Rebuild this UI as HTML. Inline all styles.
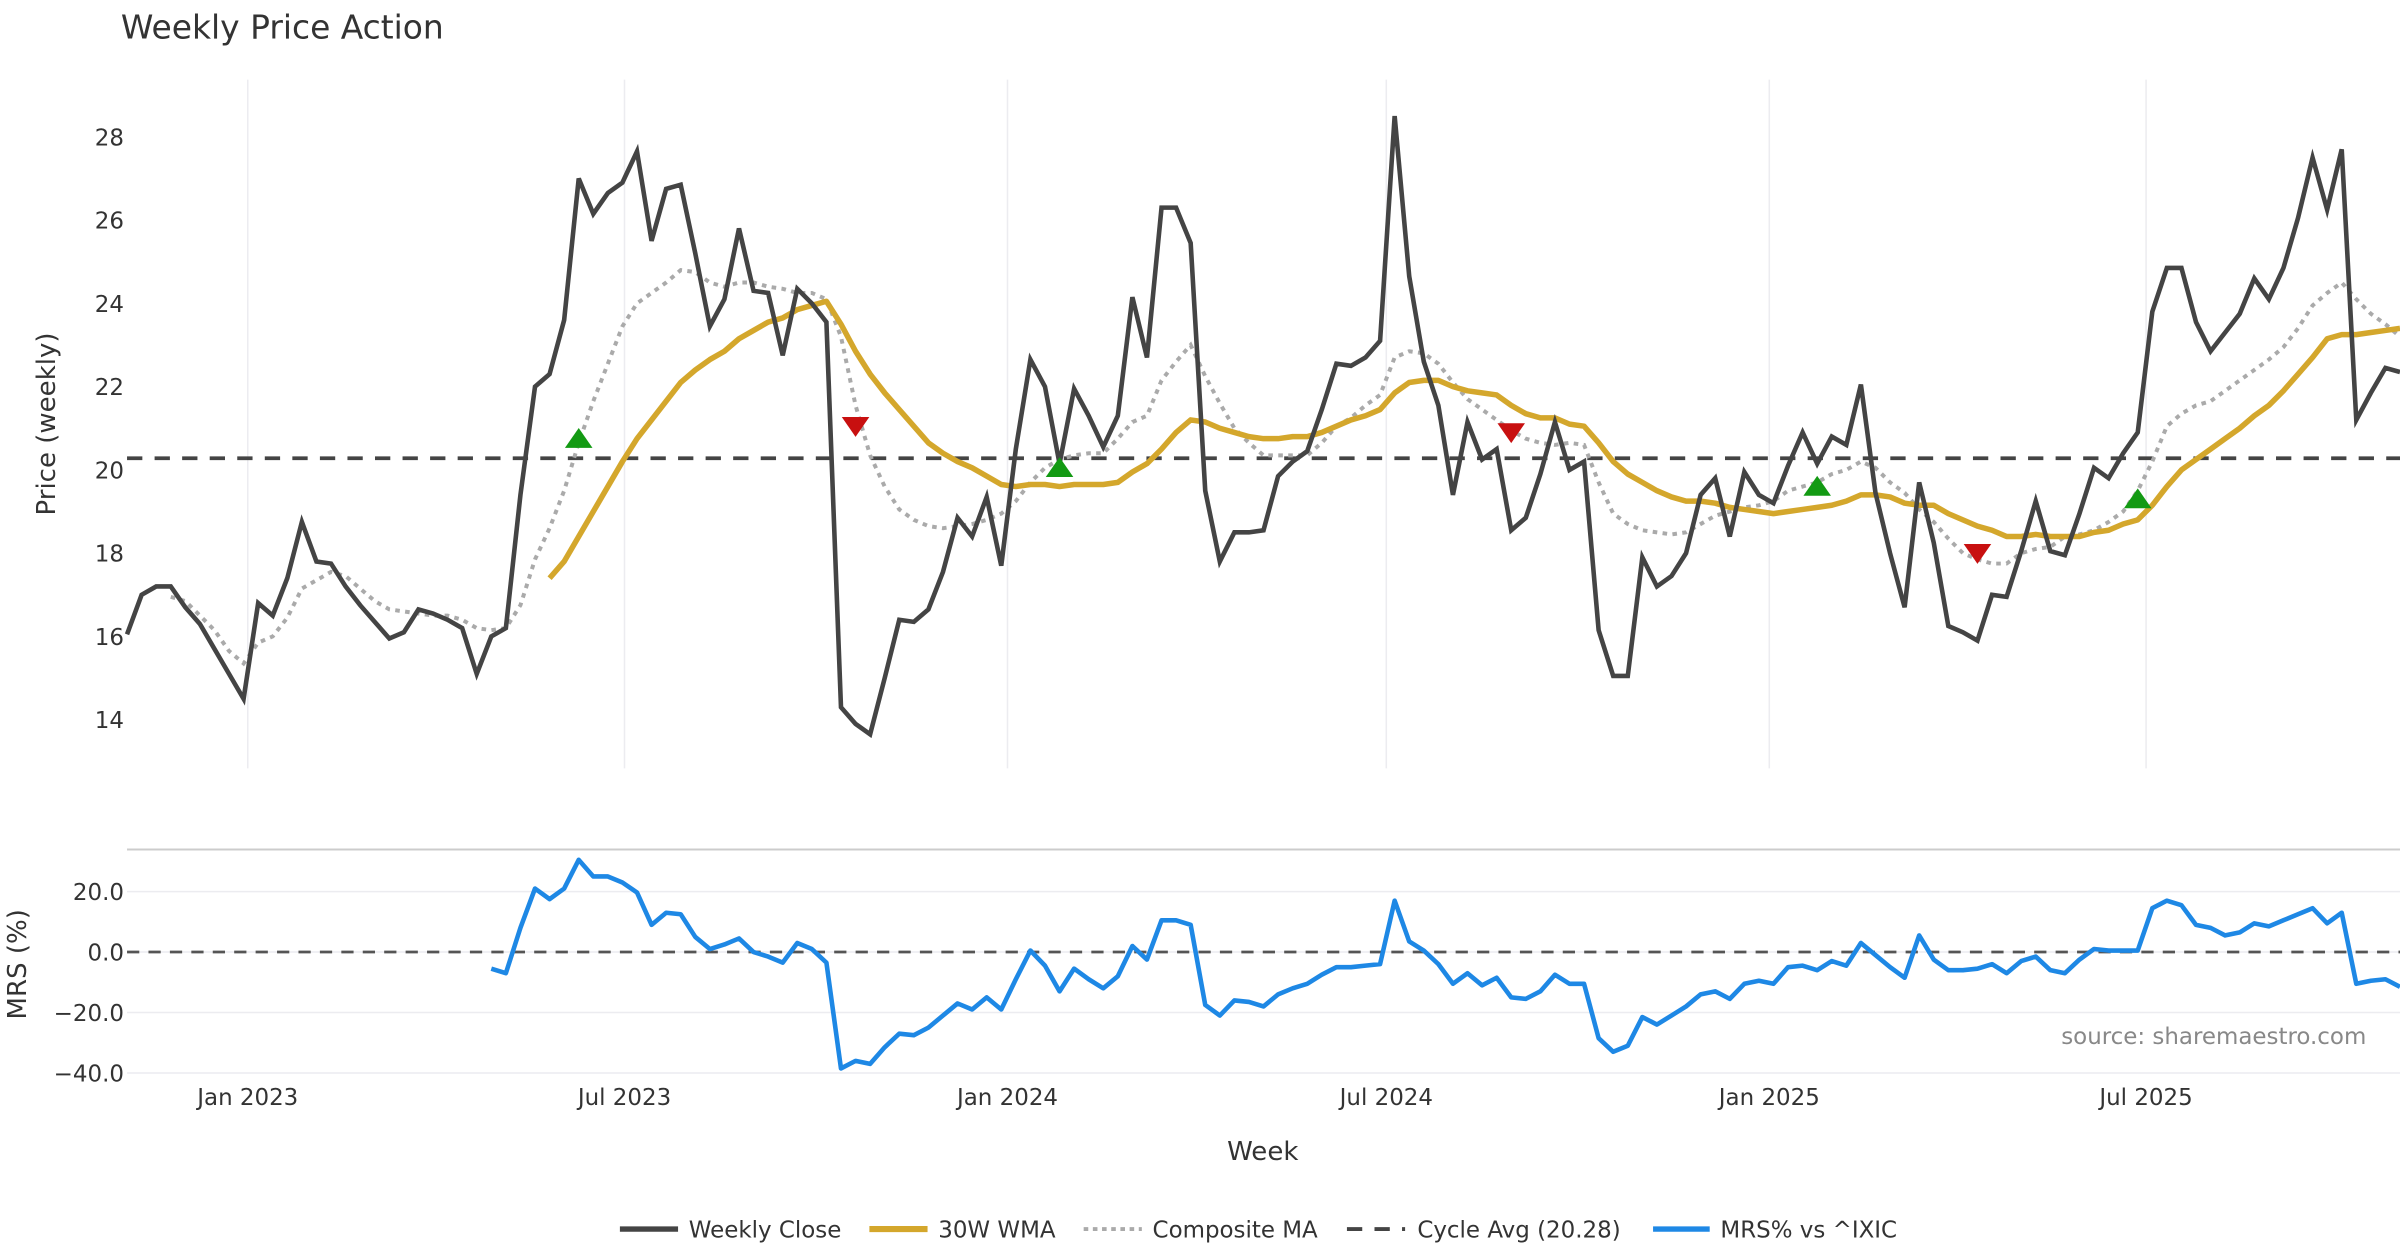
<!DOCTYPE html>
<html><head><meta charset="utf-8"><title>Weekly Price Action</title>
<style>
html,body{margin:0;padding:0;background:#fff;}
svg{display:block;font-family:"DejaVu Sans","Liberation Sans",sans-serif;}
</style></head>
<body>
<svg id="chart" xmlns="http://www.w3.org/2000/svg" width="2400" height="1260" viewBox="0 0 1568 823.2" preserveAspectRatio="none">
<rect x="0" y="0" width="1568" height="823.2" fill="#fff"/>
<text x="79" y="25" font-size="21.5" fill="#333">Weekly Price Action</text>
<g id="grid"></g>
<g id="price"></g>
<g id="mrs"></g>
<g id="axes"></g>
<text transform="translate(36,277) rotate(-90)" text-anchor="middle" font-size="17" fill="#333">Price (weekly)</text>
<text transform="translate(17,630) rotate(-90)" text-anchor="middle" font-size="17" fill="#333">MRS (%)</text>
<text x="825" y="758" text-anchor="middle" font-size="17" fill="#333">Week</text>
<text x="1546" y="682" text-anchor="end" font-size="15" fill="#888">source: sharemaestro.com</text>
<g id="legend">
  <line x1="405" y1="803" x2="443" y2="803" stroke="#444" stroke-width="3.5"/>
  <text x="450" y="808.5" font-size="15" fill="#333">Weekly Close</text>
  <line x1="568" y1="803" x2="606" y2="803" stroke="#d4a72c" stroke-width="4"/>
  <text x="613" y="808.5" font-size="15" fill="#333">30W WMA</text>
  <line x1="708" y1="803" x2="746" y2="803" stroke="#aaa" stroke-width="2.5" stroke-dasharray="3,3"/>
  <text x="753" y="808.5" font-size="15" fill="#333">Composite MA</text>
  <line x1="880" y1="803" x2="918" y2="803" stroke="#444" stroke-width="2.5" stroke-dasharray="10,8"/>
  <text x="926" y="808.5" font-size="15" fill="#333">Cycle Avg (20.28)</text>
  <line x1="1080" y1="803" x2="1117" y2="803" stroke="#1e88e5" stroke-width="3.5"/>
  <text x="1124" y="808.5" font-size="15" fill="#333">MRS% vs ^IXIC</text>
</g>
</svg>
<script>
const closeVals=[16.05,17.0,17.2,17.2,16.7,16.3,15.7,15.1,14.5,16.8,16.5,17.4,18.75,17.8,17.75,17.2,16.75,16.35,15.95,16.1,16.65,16.55,16.4,16.2,15.1,16.0,16.2,19.4,22.0,22.3,23.6,27.0,26.15,26.65,26.9,27.65,25.5,26.75,26.85,25.2,23.45,24.1,25.8,24.3,24.25,22.75,24.35,24.0,23.55,14.3,13.9,13.65,15.0,16.4,16.35,16.65,17.55,18.85,18.4,19.35,17.7,20.5,22.65,22.0,20.15,21.95,21.3,20.55,21.3,24.15,22.7,26.3,26.3,25.45,19.5,17.8,18.5,18.5,18.55,19.85,20.2,20.45,21.45,22.55,22.5,22.7,23.1,28.5,24.65,22.6,21.55,19.4,21.15,20.25,20.5,18.55,18.85,19.9,21.15,20.0,20.2,16.15,15.05,15.05,17.9,17.2,17.45,18.0,19.4,19.8,18.4,19.95,19.4,19.2,20.1,20.9,20.15,20.8,20.6,22.05,19.45,18.0,16.7,19.7,18.25,16.25,16.1,15.9,17.0,16.95,18.05,19.25,18.05,17.95,18.95,20.05,19.8,20.4,20.9,23.8,24.85,24.85,23.55,22.85,23.3,23.75,24.6,24.1,24.85,26.05,27.5,26.25,27.7,21.2,21.85,22.45,22.35];
const wmaVals=[17.4,17.8,18.4,19.0,19.6,20.2,20.75,21.2,21.65,22.1,22.4,22.65,22.85,23.15,23.35,23.55,23.65,23.85,23.95,24.05,23.5,22.85,22.3,21.85,21.45,21.05,20.65,20.4,20.2,20.05,19.85,19.65,19.6,19.65,19.65,19.6,19.65,19.65,19.65,19.7,19.95,20.15,20.5,20.9,21.2,21.15,21.0,20.9,20.8,20.75,20.75,20.8,20.8,20.9,21.05,21.2,21.3,21.45,21.85,22.1,22.15,22.15,22.0,21.9,21.85,21.8,21.55,21.35,21.25,21.25,21.1,21.05,20.65,20.2,19.9,19.7,19.5,19.35,19.25,19.25,19.2,19.1,19.05,19.0,18.95,19.0,19.05,19.1,19.15,19.25,19.4,19.4,19.35,19.2,19.15,19.15,18.95,18.8,18.65,18.55,18.4,18.4,18.45,18.4,18.4,18.4,18.5,18.55,18.7,18.8,19.15,19.6,20.0,20.25,20.5,20.75,21.0,21.3,21.55,21.9,22.3,22.7,23.15,23.25,23.25,23.3,23.35,23.4];
const compVals=[16.95,16.85,16.5,16.15,15.65,15.35,15.85,16.0,16.45,17.15,17.35,17.55,17.45,17.15,16.85,16.65,16.6,16.55,16.5,16.5,16.4,16.2,16.15,16.2,16.75,17.85,18.6,19.5,20.65,21.65,22.55,23.45,24.0,24.25,24.5,24.8,24.75,24.5,24.4,24.5,24.5,24.4,24.35,24.25,24.25,24.1,23.2,21.55,20.35,19.6,19.05,18.8,18.65,18.6,18.65,18.7,18.8,18.95,19.25,19.7,20.05,20.25,20.35,20.4,20.4,20.75,21.15,21.3,22.15,22.6,23.0,22.25,21.6,21.0,20.65,20.35,20.35,20.35,20.35,20.65,21.05,21.25,21.55,21.8,22.7,22.85,22.8,22.55,22.1,21.7,21.45,21.2,20.95,20.75,20.65,20.6,20.65,20.6,19.7,18.95,18.7,18.55,18.5,18.45,18.5,18.7,18.9,19.0,19.1,19.15,19.25,19.5,19.6,19.7,19.9,20.0,20.2,20.05,19.7,19.45,19.05,18.75,18.35,18.0,17.85,17.75,17.75,18.0,18.1,18.15,18.4,18.45,18.55,18.75,19.0,19.5,20.2,21.05,21.35,21.55,21.65,21.9,22.15,22.4,22.65,22.95,23.4,23.95,24.25,24.5,24.1,23.75,23.5,23.2];
const mrsVals=[-5.5,-7,8,21,17.5,21,30.5,25,25,23,19.7,9,13,12.5,5,1,2.5,4.5,0,-1.5,-3.5,3,1,-3.5,-38.5,-36,-37,-31.5,-27,-27.5,-25,-21,-17,-19,-15,-19,-9,0.5,-4.5,-13,-5.5,-9,-12,-8,2,-2.5,10.5,10.5,9,-17.5,-21,-16,-16.5,-18,-14,-12,-10.5,-7.5,-5,-5,-4.5,-4,17,3.5,0.5,-4,-10.5,-7,-11,-8.5,-15,-15.5,-13,-7.5,-10.5,-10.5,-28.5,-33,-31,-21.5,-24,-21,-18,-14,-13,-15.5,-10.5,-9.5,-10.5,-5,-4.5,-6,-3,-4.5,3,-1,-5,-8.5,5.5,-2.5,-6,-6,-5.5,-4,-7,-3,-1.5,-6,-7,-2.5,1,0.5,0.5,0.5,14.5,17,15.5,9,8,5.5,6.5,9.5,8.5,10.5,12.5,14.5,9.5,13,-10.5,-9.5,-9,-11.5];
const buyIdx=[31,64,116,138];
const buyVals=[20.75,20.05,19.6,19.3];
const sellIdx=[50,95,127];
const sellVals=[21.05,20.9,18.0];
const cycleAvg=20.28;
const priceTicks=[14,16,18,20,22,24,26,28];
const mrsTicks=[20,0,-20,-40];
const mrsTickLabels=["20.0","0.0","\u221220.0","\u221240.0"];
const dateTicks=["2023-01-01","2023-07-01","2024-01-01","2024-07-01","2025-01-01","2025-07-01"];
const dateTickLabels=["Jan 2023","Jul 2023","Jan 2024","Jul 2024","Jan 2025","Jul 2025"];
const startDate="2022-11-04";

const NS="http://www.w3.org/2000/svg";
const n=closeVals.length;
const X0=83,X1=1568;
const step=(X1-X0)/(n-1);
function xi(i){return X0+i*step;}
function xd(d){const days=(new Date(d)-new Date(startDate))/86400000;return X0+days/7*step;}
function yp(v){return 307-(v-20)*27.2;}
function ym(v){return 622-v*1.975;}
function mk(tag,attrs,parent){const e=document.createElementNS(NS,tag);for(const k in attrs)e.setAttribute(k,attrs[k]);parent.appendChild(e);return e;}
const grid=document.getElementById('grid'),price=document.getElementById('price'),mrs=document.getElementById('mrs'),axes=document.getElementById('axes');

dateTicks.forEach((d,k)=>{
  const x=xd(d);
  const g=mk('line',{x1:x,y1:52,x2:x,y2:502,stroke:'#ececf0','stroke-width':1},grid);
  
  
  const t=mk('text',{x:x,y:722,'text-anchor':'middle','font-size':15,fill:'#333'},axes);
  t.textContent=dateTickLabels[k];
  
  
});
priceTicks.forEach(v=>{
  const t=mk('text',{x:81,y:yp(v)+5.5,'text-anchor':'end','font-size':15,fill:'#333'},axes);
  t.textContent=String(v);
  
  
});
mrsTicks.forEach((v,k)=>{
  const gl=mk('line',{x1:X0,y1:ym(v),x2:X1,y2:ym(v),stroke:'#ececf0','stroke-width':1},grid);
  
  
  const t=mk('text',{x:81,y:ym(v)+5.5,'text-anchor':'end','font-size':15,fill:'#333'},axes);
  t.textContent=mrsTickLabels[k];
  
  
});
const sep=mk('line',{x1:X0,y1:555,x2:X1,y2:555,stroke:'#ccc','stroke-width':1.3},grid);



function pathFrom(vals,off,yf){return vals.map((v,i)=>(i?'L':'M')+xi(i+off).toFixed(2)+','+yf(v).toFixed(2)).join(' ');}

const cyc=mk('line',{x1:X0,y1:yp(cycleAvg),x2:X1,y2:yp(cycleAvg),stroke:'#444','stroke-width':2.5,'stroke-dasharray':'10,8'},price);


const comp=mk('path',{d:pathFrom(compVals,n-compVals.length,yp),fill:'none',stroke:'#aaa','stroke-width':2.6,'stroke-dasharray':'3,3.5'},price);


const wma=mk('path',{d:pathFrom(wmaVals,n-wmaVals.length,yp),fill:'none',stroke:'#d4a72c','stroke-width':3.6,'stroke-linejoin':'round'},price);


const cl=mk('path',{d:pathFrom(closeVals,0,yp),fill:'none',stroke:'#444','stroke-width':3,'stroke-linejoin':'miter'},price);


buyIdx.forEach((ix,k)=>{
  const x=xi(ix),y=yp(buyVals[k]);
  const p=mk('polygon',{points:`${x-9},${y+6} ${x+9},${y+6} ${x},${y-7}`,fill:'#139a13'},price);
  
  
});
sellIdx.forEach((ix,k)=>{
  const x=xi(ix),y=yp(sellVals[k]);
  const p=mk('polygon',{points:`${x-9},${y-6} ${x+9},${y-6} ${x},${y+7}`,fill:'#c81010'},price);
  
  
});
const z=mk('line',{x1:X0,y1:ym(0),x2:X1,y2:ym(0),stroke:'#555','stroke-width':1.8,'stroke-dasharray':'8,6'},mrs);


const ml=mk('path',{d:pathFrom(mrsVals,n-mrsVals.length,ym),fill:'none',stroke:'#1e88e5','stroke-width':3,'stroke-linejoin':'round'},mrs);


</script>
</body></html>
